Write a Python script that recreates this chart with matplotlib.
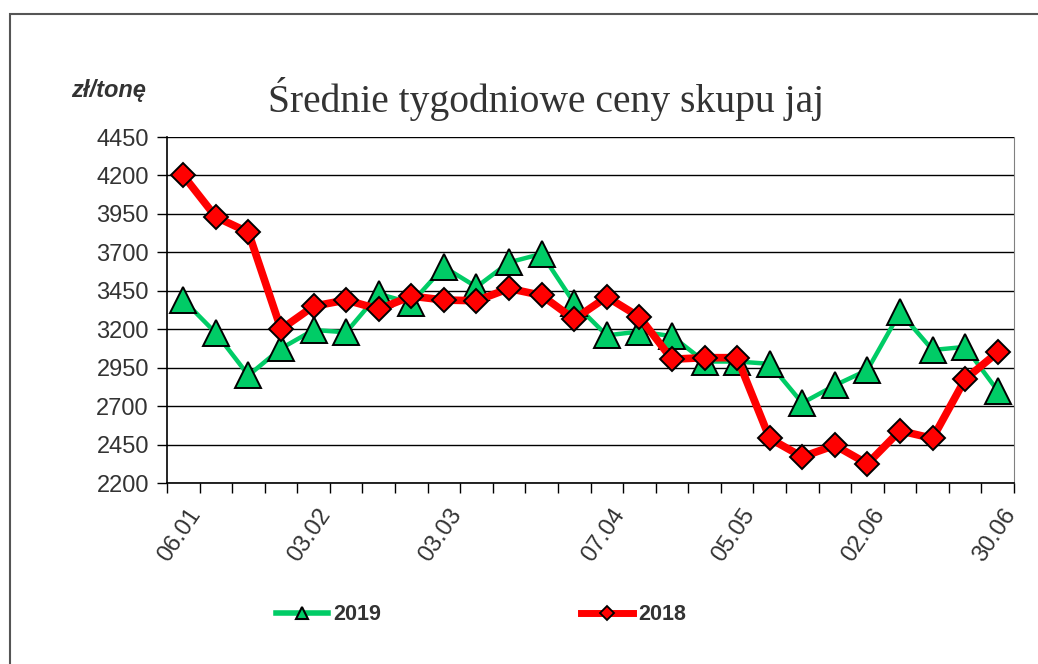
import matplotlib.pyplot as plt
import matplotlib.transforms as mtransforms
from matplotlib.lines import Line2D
from matplotlib.patches import Rectangle

# weekly dates (2019), labels shown only on first week of each month
dates = ["06.01", "13.01", "20.01", "27.01", "03.02", "10.02", "17.02", "24.02",
         "03.03", "10.03", "17.03", "24.03", "31.03", "07.04", "14.04", "21.04",
         "28.04", "05.05", "12.05", "19.05", "26.05", "02.06", "09.06", "16.06",
         "23.06", "30.06"]
shown_labels = ["06.01", "03.02", "03.03", "07.04", "05.05", "02.06", "30.06"]

prices_2019 = [3390, 3175, 2900, 3075, 3195, 3180, 3430, 3370, 3605, 3475,
               3635, 3690, 3370, 3160, 3185, 3155, 2990, 2990, 2975, 2720,
               2835, 2935, 3310, 3065, 3085, 2800]
prices_2018 = [4200, 3930, 3830, 3200, 3350, 3390, 3330, 3415, 3390, 3385,
               3465, 3420, 3265, 3410, 3280, 3005, 3015, 3015, 2490, 2370,
               2445, 2325, 2540, 2490, 2875, 3050]

y_ticks = list(range(2200, 4451, 250))

green = "#00CC66"
red = "#FF0000"
text_col = "#333333"

plt.rcParams["font.family"] = ["Liberation Sans", "DejaVu Sans"]

fig = plt.figure(figsize=(10.38, 6.64), dpi=100)
fig.patches.append(Rectangle((10 / 1038, -0.1), 1.2, 1 - 14 / 664 + 0.1,
                             transform=fig.transFigure, fill=False,
                             edgecolor="#555555", linewidth=1.5))

ax = fig.add_axes([167 / 1038, 1 - 483 / 664, (1014 - 167) / 1038, (483 - 137) / 664])

x = list(range(len(dates)))
ax.plot(x, prices_2019, color=green, lw=3.2, marker="^", ms=19,
        markerfacecolor=green, markeredgecolor="black", markeredgewidth=1.4,
        zorder=3)
ax.plot(x, prices_2018, color=red, lw=5.5, marker="D", ms=12.5,
        markerfacecolor=red, markeredgecolor="black", markeredgewidth=1.4,
        zorder=4)

ax.set_xlim(-0.5, len(dates) - 0.5)
ax.set_ylim(2200, 4450)
ax.set_yticks(y_ticks)
ax.tick_params(axis="y", direction="out", length=7, width=1, colors="black",
               labelcolor=text_col, labelsize=17, pad=6)
ax.yaxis.grid(True, color="black", lw=1)
ax.set_axisbelow(True)

# category boundary ticks on x axis
ax.set_xticks([i - 0.5 for i in range(len(dates) + 1)], minor=True)
ax.tick_params(axis="x", which="minor", direction="out", length=7, width=1)
pos = [dates.index(d) for d in shown_labels]
ax.set_xticks(pos)
ax.set_xticklabels(shown_labels, rotation=56, ha="right", va="center",
                   rotation_mode="anchor", fontsize=17, color=text_col)
ax.tick_params(axis="x", which="major", length=0, pad=20)
offset = mtransforms.ScaledTranslation(13 / 100, 0, fig.dpi_scale_trans)
for lab in ax.get_xticklabels():
    lab.set_transform(lab.get_transform() + offset)

for s in ["left", "bottom"]:
    ax.spines[s].set_color("black")
    ax.spines[s].set_linewidth(1.2)
ax.spines["top"].set_visible(False)
ax.spines["right"].set_color("#808080")

fig.text(546 / 1038, 1 - 99 / 664, "Średnie tygodniowe ceny skupu jaj",
         ha="center", va="center", fontsize=28.5, color=text_col,
         family=["Liberation Serif", "DejaVu Serif"])
fig.text(109 / 1038, 1 - 91 / 664, "zł/tonę", ha="center", va="center",
         fontsize=17, fontweight="bold", fontstyle="italic", color=text_col)

handles = [
    Line2D([0], [0], color=green, lw=4, marker="^", ms=9, markerfacecolor=green,
           markeredgecolor="black", markeredgewidth=1.5),
    Line2D([0], [0], color=red, lw=5, marker="D", ms=7, markerfacecolor=red,
           markeredgecolor="black", markeredgewidth=1.3),
]
fig.legend(handles, ["2019", "2018"], loc="center", ncol=2,
           bbox_to_anchor=(481 / 1038, 1 - 615 / 664), frameon=False,
           prop={"weight": "bold", "size": 15.5}, labelcolor=text_col,
           handlelength=2.4, handletextpad=0.25, columnspacing=9.3)

fig.savefig("out.png", dpi=100)
